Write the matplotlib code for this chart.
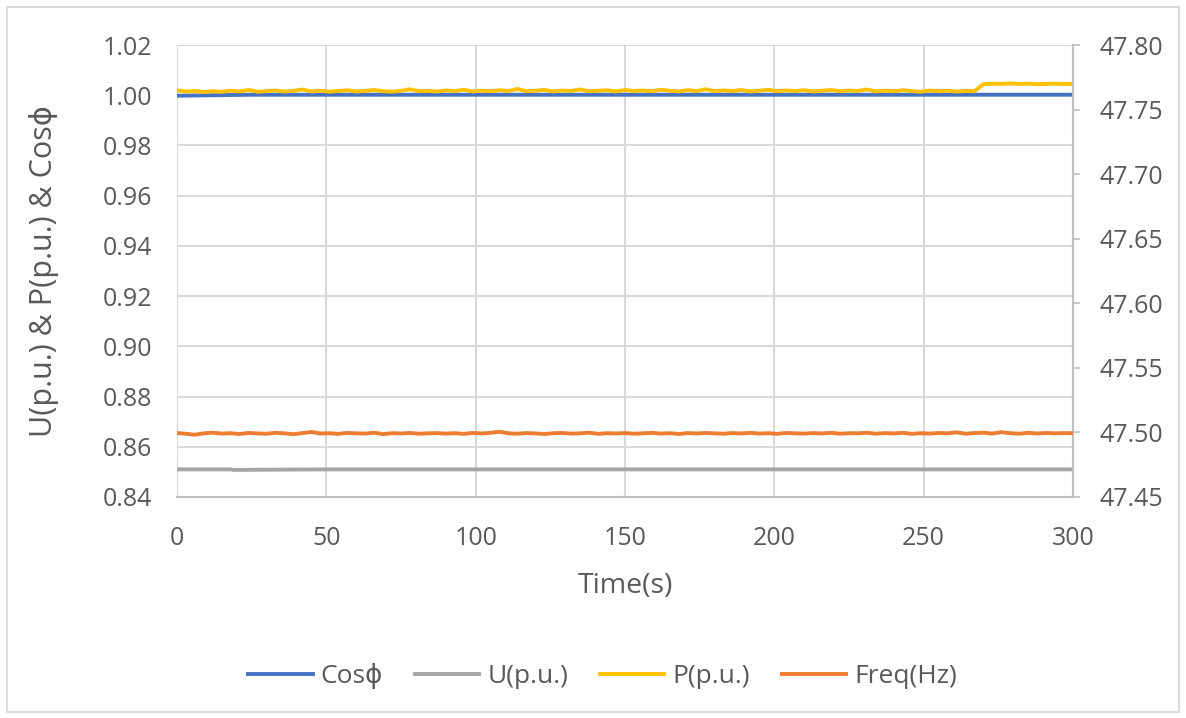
"""Recreation of the Cosφ / U / P / Freq time chart (Excel style)."""

import matplotlib
matplotlib.use("Agg")
import matplotlib.pyplot as plt
import numpy as np
from matplotlib.patches import Rectangle

# --- data ----------------------------------------------------------------
time_s = np.arange(0, 301, 3)  # 101 samples, 0..300 s

p_pu = [
    1.0019, 1.0015, 1.0017, 1.0013, 1.0016, 1.0014, 1.0018, 1.0015, 1.0021, 1.0014,
    1.0016, 1.0019, 1.0015, 1.0017, 1.0023, 1.0015, 1.0018, 1.0014, 1.0017, 1.0020,
    1.0015, 1.0017, 1.0021, 1.0016, 1.0014, 1.0018, 1.0024, 1.0016, 1.0017, 1.0015,
    1.0019, 1.0017, 1.0022, 1.0015, 1.0018, 1.0016, 1.0020, 1.0017, 1.0025, 1.0016,
    1.0018, 1.0021, 1.0015, 1.0019, 1.0017, 1.0023, 1.0016, 1.0018, 1.0020, 1.0015,
    1.0021, 1.0017, 1.0019, 1.0016, 1.0022, 1.0018, 1.0015, 1.0020, 1.0017, 1.0024,
    1.0016, 1.0019, 1.0017, 1.0021, 1.0015, 1.0018, 1.0022, 1.0016, 1.0019, 1.0017,
    1.0020, 1.0015, 1.0018, 1.0021, 1.0016, 1.0019, 1.0017, 1.0023, 1.0015, 1.0018,
    1.0016, 1.0020, 1.0017, 1.0014, 1.0019, 1.0016, 1.0018, 1.0015, 1.0017, 1.0016,
    1.0044, 1.0046, 1.0045, 1.0047, 1.0045, 1.0046, 1.0044, 1.0045, 1.0046, 1.0045,
    1.0045,
]

freq_hz = [
    47.4995, 47.4990, 47.4982, 47.4993, 47.4998, 47.4991, 47.4994, 47.4988, 47.4996, 47.4992,
    47.4990, 47.4997, 47.4993, 47.4986, 47.4995, 47.5003, 47.4992, 47.4994, 47.4989, 47.4996,
    47.4993, 47.4991, 47.4998, 47.4987, 47.4994, 47.4992, 47.4996, 47.4990, 47.4993, 47.4995,
    47.4991, 47.4994, 47.4989, 47.4996, 47.4992, 47.4997, 47.5005, 47.4993, 47.4990, 47.4995,
    47.4992, 47.4988, 47.4994, 47.4996, 47.4991, 47.4993, 47.4998, 47.4989, 47.4994, 47.4992,
    47.4995, 47.4990, 47.4993, 47.4997, 47.4991, 47.4994, 47.4988, 47.4995, 47.4992, 47.4996,
    47.4993, 47.4990, 47.4995, 47.4992, 47.4997, 47.4991, 47.4994, 47.4989, 47.4996, 47.4993,
    47.4991, 47.4995, 47.4992, 47.4997, 47.4990, 47.4994, 47.4993, 47.4998, 47.4990, 47.4995,
    47.4992, 47.4997, 47.4989, 47.4994, 47.4991, 47.4996, 47.4993, 47.5001, 47.4990, 47.4995,
    47.4998, 47.4991, 47.5002, 47.4994, 47.4990, 47.4997, 47.4992, 47.4996, 47.4993, 47.4995,
    47.4994,
]

cos_time = [0, 25, 50, 75, 100, 125, 150, 175, 200, 225, 250, 275, 300]
cos_phi = [0.9998, 1.0002, 1.0002, 1.0002, 1.0002, 1.0002, 1.0002,
           1.0002, 1.0002, 1.0002, 1.0002, 1.0002, 1.0002]

u_time = [0, 18, 19, 50, 100, 150, 200, 250, 300]
u_pu = [0.8510, 0.8510, 0.8508, 0.8510, 0.8510, 0.8510, 0.8510, 0.8510, 0.8510]

left_ticks = [0.84, 0.86, 0.88, 0.90, 0.92, 0.94, 0.96, 0.98, 1.00, 1.02]
right_ticks = [47.45, 47.50, 47.55, 47.60, 47.65, 47.70, 47.75, 47.80]
x_ticks = [0, 50, 100, 150, 200, 250, 300]

# --- styling --------------------------------------------------------------
plt.rcParams["font.family"] = ["Open Sans", "DejaVu Sans"]
tekst = "#595959"
siatka = "#d9d9d9"
kolory = {
    "cos": "#4472C4",
    "u": "#A5A5A5",
    "p": "#FFC000",
    "f": "#ED7D31",
}

fig = plt.figure(figsize=(11.86, 7.18), dpi=100)
fig.patches.append(Rectangle((0.006, 0.008), 0.988, 0.982, transform=fig.transFigure,
                             fill=False, edgecolor="#dcdcdc", linewidth=1.5))

ax = fig.add_axes([0.1492, 0.3078, 0.7555, 0.6295])
ax2 = ax.twinx()

ax.plot(cos_time, cos_phi, color=kolory["cos"], lw=2.8, label="Cosϕ", zorder=3)
ax.plot(u_time, u_pu, color=kolory["u"], lw=2.8, label="U(p.u.)", zorder=3)
ax.plot(time_s, p_pu, color=kolory["p"], lw=2.8, label="P(p.u.)", zorder=4)
ax2.plot(time_s, freq_hz, color=kolory["f"], lw=2.8, label="Freq(Hz)", zorder=3)

ax.set_xlim(0, 300)
ax.set_ylim(0.84, 1.02)
ax2.set_ylim(47.45, 47.80)
ax.set_xticks(x_ticks)
ax.set_yticks(left_ticks)
ax2.set_yticks(right_ticks)
ax.set_yticklabels([f"{v:.2f}" for v in left_ticks])
ax2.set_yticklabels([f"{v:.2f}" for v in right_ticks])

ax.grid(True, color=siatka, lw=1.5, zorder=0)
ax.set_axisbelow(True)

for a in (ax, ax2):
    for s in a.spines.values():
        s.set_visible(False)
ax.spines["bottom"].set_visible(True)
ax.spines["bottom"].set_color("#bfbfbf")
ax.spines["bottom"].set_linewidth(1.5)
ax2.spines["right"].set_visible(True)
ax2.spines["right"].set_color("#bfbfbf")
ax2.spines["right"].set_linewidth(1.5)

ax.tick_params(axis="both", length=0, labelsize=18, labelcolor=tekst)
ax.tick_params(axis="x", pad=21)
ax.tick_params(axis="y", pad=18)
ax2.tick_params(axis="y", length=5, width=1.2, color="#bfbfbf",
                labelsize=18, labelcolor=tekst, pad=14)

ax.set_xlabel("Time(s)", fontsize=20.5, color=tekst, labelpad=15)
ax.set_ylabel("U(p.u.) & P(p.u.) & Cosϕ", fontsize=22, color=tekst, labelpad=31)

uchwyty = ax.get_lines() + ax2.get_lines()
fig.legend(uchwyty, [h.get_label() for h in uchwyty], loc="center",
           bbox_to_anchor=(0.508, 0.058), ncol=4, frameon=False, fontsize=19,
           labelcolor=tekst, handlelength=2.45, handletextpad=0.3, columnspacing=1.2)

fig.savefig("out.png", dpi=100)
